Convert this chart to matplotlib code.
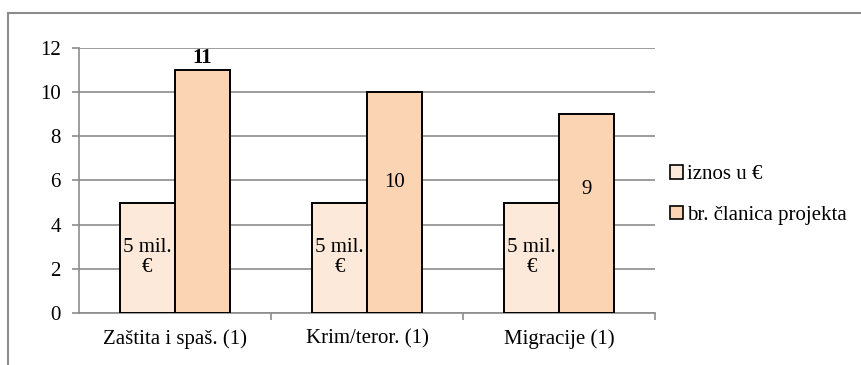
import matplotlib.pyplot as plt
import numpy as np
from matplotlib.patches import Patch
from matplotlib.lines import Line2D

plt.rcParams["font.family"] = ["Liberation Serif", "DejaVu Serif"]

categories = ["Zaštita i spaš. (1)", "Krim/teror. (1)", "Migracije (1)"]
iznos = [5, 5, 5]
clanice = [11, 10, 9]
iznos_labels = ["5 mil.\n€", "5 mil.\n€", "5 mil.\n€"]

light = "#FDE9D9"
peach = "#FBD4B4"
grid_col = "#8c8c8c"
fs = 15

fig = plt.figure(figsize=(8.62, 3.65), dpi=100)
ax = fig.add_axes([0.0916, 0.1425, 0.6684, 0.726])

x = np.arange(len(categories))
w = 0.288
ax.bar(x - w / 2, iznos, w, color=light, edgecolor="black", linewidth=1.4, zorder=3)
ax.bar(x + w / 2, clanice, w, color=peach, edgecolor="black", linewidth=1.4, zorder=3)

# value labels
for xi, v, lab in zip(x, iznos, iznos_labels):
    ax.text(xi - w / 2, v / 2, lab, ha="center", va="center", fontsize=fs,
            linespacing=1.1, zorder=4)
for i, (xi, v) in enumerate(zip(x, clanice)):
    if i == 0:
        ax.text(xi + w / 2, v + 0.1, str(v), ha="center", va="bottom",
                fontsize=fs, fontweight="bold", zorder=4)
    else:
        ax.text(xi + w / 2, v * 0.3 + 2.9, str(v), ha="center", va="center",
                fontsize=fs, zorder=4)

ax.set_xlim(-0.5, 2.5)
ax.set_ylim(0, 12)
ax.set_yticks(range(0, 13, 2))
ax.yaxis.grid(True, color=grid_col, linewidth=1.2, zorder=0)
ax.set_axisbelow(True)

ax.set_xticks(x)
ax.set_xticklabels(categories, fontsize=fs)
ax.tick_params(axis="x", length=0, pad=12)
ax.set_xticks([0.5, 1.5, 2.5], minor=True)
ax.tick_params(axis="x", which="minor", length=5, color=grid_col, width=1.2)
ax.tick_params(axis="y", labelsize=fs, length=5, color=grid_col, width=1.2, pad=8)

for s in ["top", "right"]:
    ax.spines[s].set_visible(False)
for s in ["left", "bottom"]:
    ax.spines[s].set_color(grid_col)
    ax.spines[s].set_linewidth(1.2)

handles = [Patch(facecolor=light, edgecolor="black", linewidth=1.2),
           Patch(facecolor=peach, edgecolor="black", linewidth=1.2)]
fig.legend(handles, ["iznos u €", "br. članica projekta"], loc="center left",
           bbox_to_anchor=(0.768, 0.465), frameon=False, fontsize=fs,
           handlelength=0.6, handleheight=0.6, handletextpad=0.2, labelspacing=1.05,
           borderaxespad=0)

# chart area border (top and left edges)
fig.add_artist(Line2D([0.0093, 1.0], [1 - 13 / 365, 1 - 13 / 365],
                      transform=fig.transFigure, color="#8c8c8c", linewidth=1.5))
fig.add_artist(Line2D([0.0093, 0.0093], [0.0, 1 - 13 / 365],
                      transform=fig.transFigure, color="#8c8c8c", linewidth=1.5))

fig.savefig("out.png", dpi=100)
